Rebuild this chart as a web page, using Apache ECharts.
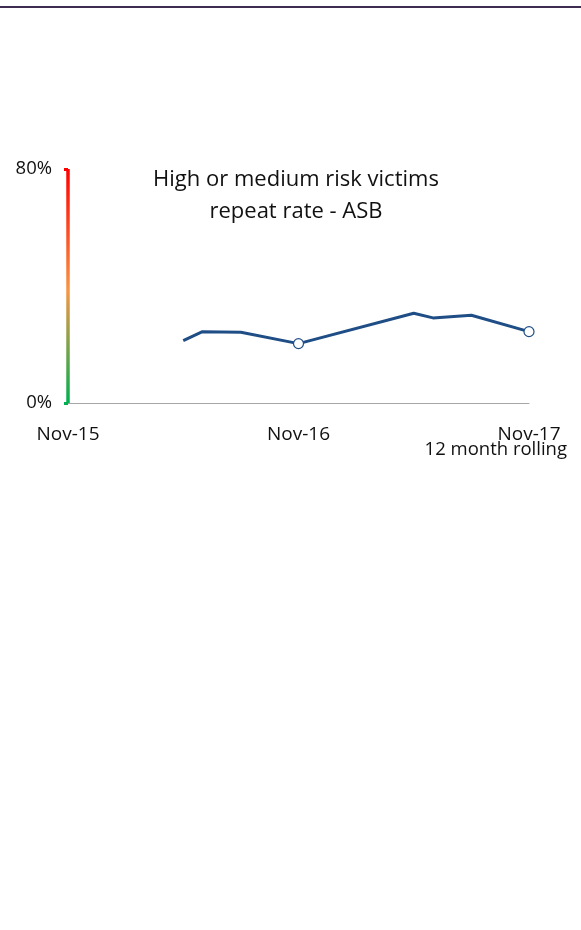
<!DOCTYPE html>
<html>
<head>
<meta charset="utf-8">
<style>
  html, body { margin: 0; padding: 0; background: #fff; }
  #chart { width: 581px; height: 930px; }
</style>
<script src="https://cdn.jsdelivr.net/npm/echarts@6/dist/echarts.min.js"></script>
</head>
<body>
<div id="chart"></div>
<script>
// Months Nov-15 .. Nov-17
const months = [
  'Nov-15','Dec-15','Jan-16','Feb-16','Mar-16','Apr-16','May-16','Jun-16','Jul-16','Aug-16','Sep-16','Oct-16',
  'Nov-16','Dec-16','Jan-17','Feb-17','Mar-17','Apr-17','May-17','Jun-17','Jul-17','Aug-17','Sep-17','Oct-17','Nov-17'
];
const shownMonths = ['Nov-15', 'Nov-16', 'Nov-17'];
// Repeat rate (%) – 12 month rolling; null where no figure
const repeatRate = [
  null, null, null, null, null, null, 21.3, 24.4, null, 24.2, null, null,
  20.3, null, null, null, null, null, 30.7, 29.1, null, 30.0, null, null, 24.4
];
const markedMonths = ['Nov-16', 'Nov-17'];
const yTicks = [0, 80];

const chart = echarts.init(document.getElementById('chart'));
const font = '"Open Sans", "Noto Sans", sans-serif';

const ragGradient = new echarts.graphic.LinearGradient(0, 169, 0, 403, [
  { offset: 0, color: '#ff0000' },
  { offset: 0.52, color: '#f79646' },
  { offset: 1, color: '#00b050' }
], true);

chart.setOption({
  animation: false,
  backgroundColor: '#ffffff',
  title: {
    text: 'High or medium risk victims\nrepeat rate - ASB',
    left: 291,
    textAlign: 'center',
    top: 159,
    textStyle: { fontFamily: font, fontSize: 22, fontWeight: 'normal', color: '#111', lineHeight: 32 }
  },
  grid: { left: 68, right: 52, top: 169, bottom: 527, containLabel: false },
  xAxis: {
    type: 'category',
    data: months,
    boundaryGap: false,
    axisLine: { lineStyle: { color: '#a6a6a6', width: 1 } },
    axisTick: { show: false },
    axisLabel: {
      interval: 0,
      margin: 22,
      fontFamily: font,
      fontSize: 19,
      color: '#111',
      formatter: v => shownMonths.includes(v) ? v : ''
    },
    splitLine: { show: false }
  },
  yAxis: {
    type: 'value',
    min: yTicks[0],
    max: yTicks[1],
    interval: yTicks[1] - yTicks[0],
    axisLine: { show: true, lineStyle: { color: ragGradient, width: 3.5, cap: 'butt' } },
    axisTick: { show: true, length: 4, lineStyle: { color: ragGradient, width: 3 } },
    axisLabel: {
      margin: 16,
      fontFamily: font,
      fontSize: 18.5,
      color: '#111',
      formatter: v => v + '%'
    },
    splitLine: { show: false }
  },
  graphic: [
    {
      type: 'rect',
      shape: { x: 0, y: 6, width: 581, height: 2 },
      style: { fill: '#3e2d50' }
    },
    {
      type: 'text',
      right: 14,
      top: 440,
      style: { text: '12 month rolling', font: '18.5px ' + font, fill: '#111', textAlign: 'right' }
    }
  ],
  series: [{
    type: 'line',
    data: repeatRate.map((v, i) => ({
      value: v,
      symbol: markedMonths.includes(months[i]) ? 'circle' : 'none'
    })),
    connectNulls: true,
    symbolSize: 10,
    showAllSymbol: true,
    lineStyle: { color: '#1f4e86', width: 3 },
    itemStyle: { color: '#ffffff', borderColor: '#1f4e86', borderWidth: 1.2 }
  }]
});
</script>
</body>
</html>
